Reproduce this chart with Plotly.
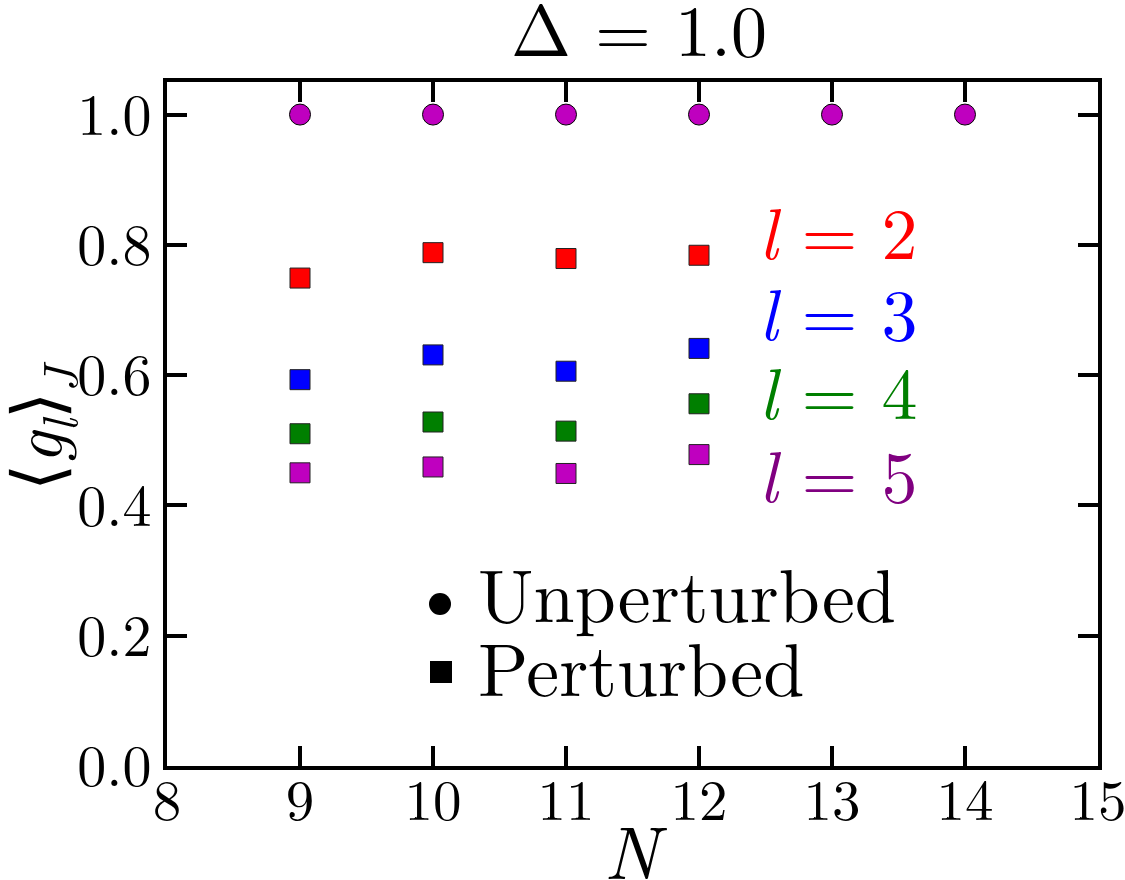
import plotly.graph_objects as go

# ---- data ----
N_unperturbed = [9, 10, 11, 12, 13, 14]
g_unperturbed = [1.0, 1.0, 1.0, 1.0, 1.0, 1.0]

N_perturbed = [9, 10, 11, 12]
g_l2 = [0.749, 0.788, 0.779, 0.784]
g_l3 = [0.593, 0.631, 0.606, 0.641]
g_l4 = [0.510, 0.528, 0.514, 0.556]
g_l5 = [0.450, 0.459, 0.449, 0.478]

series_labels = ["l = 2", "l = 3", "l = 4", "l = 5"]
x_ticks = [8, 9, 10, 11, 12, 13, 14, 15]
y_ticks = [0.0, 0.2, 0.4, 0.6, 0.8, 1.0]

# ---- style ----
FONT = "Latin Modern Roman"
W, H = 1125, 880
ML, MR, MT, MB = 167, 27, 82, 114
PW, PH = W - ML - MR, H - MT - MB

def px_to_paper(px, py):
    return (px - ML) / PW, (H - MB - py) / PH

square_colors = ["#FF0000", "#0000FF", "#007F00", "#BF00BF"]
label_colors = ["#FF0000", "#0000FF", "#007F00", "#800080"]

fig = go.Figure()

fig.add_trace(go.Scatter(
    x=N_unperturbed, y=g_unperturbed, mode="markers",
    marker=dict(symbol="circle", size=21, color="#BF00BF",
                line=dict(color="black", width=1)),
    showlegend=False,
))

for vals, col in zip([g_l2, g_l3, g_l4, g_l5], square_colors):
    fig.add_trace(go.Scatter(
        x=N_perturbed, y=vals, mode="markers",
        marker=dict(symbol="square", size=20, color=col,
                    line=dict(color="#222222", width=1)),
        showlegend=False,
    ))

axis_common = dict(
    showgrid=False, zeroline=False, showline=True, linewidth=4,
    linecolor="black", mirror="ticks", ticks="inside", ticklen=20,
    tickwidth=3.5, tickcolor="black", automargin=False,
)

fig.update_xaxes(range=[7.9999, 15.0001], tickvals=x_ticks,
                 ticktext=[str(t) for t in x_ticks],
                 tickfont=dict(family=FONT, size=57, color="black"),
                 ticklabeloverflow="allow",
                 ticklabelstandoff=-18, **axis_common)
fig.update_yaxes(range=[-0.0001, 1.05], tickvals=y_ticks,
                 ticktext=[f"{t:.1f}" for t in y_ticks],
                 tickfont=dict(family=FONT, size=58, color="black"),
                 **axis_common)

annotations = []

# title
tx, ty = px_to_paper(639, 26)
annotations.append(dict(
    x=tx, y=ty, xref="paper", yref="paper", xanchor="center", yanchor="middle",
    text="\u0394 = 1.0", showarrow=False,
    font=dict(family=FONT, size=72, color="black")))

# x label
tx, ty = px_to_paper(636, 848)
annotations.append(dict(
    x=tx, y=ty, xref="paper", yref="paper", xanchor="center", yanchor="middle",
    text="<i>N</i>", showarrow=False,
    font=dict(family=FONT, size=74, color="black")))

# y label
tx, ty = px_to_paper(37, 426)
annotations.append(dict(
    x=tx, y=ty, xref="paper", yref="paper", xanchor="center", yanchor="middle",
    text="\u27E8<i>g</i><sub><i>l</i></sub>\u27E9<sub><i>J</i></sub>",
    textangle=-90, showarrow=False,
    font=dict(family=FONT, size=70, color="black")))

# l = ... labels
label_y = [229, 310, 389, 472]
for lab, col, py in zip(series_labels, label_colors, label_y):
    lpart, rest = lab.split(" = ")
    tx, ty = px_to_paper(757, py)
    annotations.append(dict(
        x=tx, y=ty, xref="paper", yref="paper", xanchor="left", yanchor="middle",
        text=f"<i>{lpart}</i> = {rest}", showarrow=False,
        font=dict(family=FONT, size=72, color=col)))

# legend texts
for txt, py in [("Unperturbed", 591), ("Perturbed", 665)]:
    tx, ty = px_to_paper(476, py)
    annotations.append(dict(
        x=tx, y=ty, xref="paper", yref="paper", xanchor="left", yanchor="middle",
        text=txt, showarrow=False,
        font=dict(family=FONT, size=74, color="black")))

fig.update_layout(annotations=annotations)

# legend symbols
cx, cy = px_to_paper(440, 604)
fig.add_shape(type="circle", xref="paper", yref="paper",
              xsizemode="pixel", ysizemode="pixel",
              xanchor=cx, yanchor=cy, x0=-11, x1=11, y0=-11, y1=11,
              fillcolor="black", line=dict(width=0))
sx, sy = px_to_paper(441, 672)
fig.add_shape(type="rect", xref="paper", yref="paper",
              xsizemode="pixel", ysizemode="pixel",
              xanchor=sx, yanchor=sy, x0=-11, x1=11, y0=-11, y1=11,
              fillcolor="black", line=dict(width=0))

fig.update_layout(
    width=W, height=H, autosize=False,
    margin=dict(l=ML, r=MR, t=MT, b=MB, autoexpand=False),
    paper_bgcolor="white", plot_bgcolor="white",
    font=dict(family=FONT, color="black"),
)

fig.write_html("out.html")
